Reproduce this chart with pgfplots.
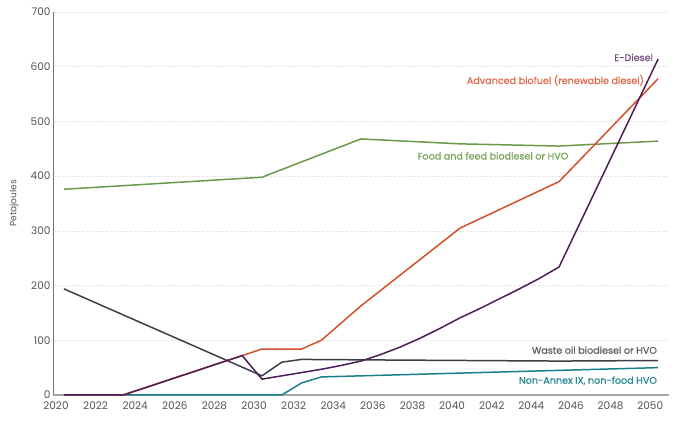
\documentclass[border=0pt]{standalone}
\usepackage{pgfplots}
\pgfplotsset{compat=1.18}
\usepackage{fontspec}
\setmainfont{Poppins}
\newfontfamily\labfont[FakeBold=0.6]{Poppins}
\usetikzlibrary{calc}

\definecolor{cfood}{HTML}{6A9A48}
\definecolor{cadv}{HTML}{D4502A}
\definecolor{cedie}{HTML}{4B1F55}
\definecolor{cwaste}{HTML}{3C3F48}
\definecolor{cnon}{HTML}{1A7F8A}
\definecolor{ctick}{HTML}{555555}

\begin{document}
\begin{tikzpicture}
\begin{axis}[
  scale only axis, width=616pt, height=383pt,
  xmin=2019.85, xmax=2050.95, ymin=0, ymax=700,
  xtick={2020,2022,...,2050}, ytick={0,100,...,700},
  xticklabel style={/pgf/number format/1000 sep={}},
  /pgf/number format/assume math mode=true,
  ticklabel style={font=\fontsize{10.5}{12}\selectfont, text=ctick},
  major tick length=0pt,
  axis x line*=bottom, axis y line*=left,
  x axis line style={draw=black!35, line width=1.3pt},
  y axis line style={draw=black!55, line width=0.6pt},
  ymajorgrids, grid style={draw=black!15, dotted, line width=0.6pt},
  ylabel={Petajoules},
  ylabel style={font=\fontsize{9}{10}\selectfont, text=ctick, at={(ticklabel cs:0.5)}, anchor=south, yshift=5pt},
  xticklabel style={yshift=-3pt},
  yticklabel style={xshift=1pt},
  clip=false,
  every axis plot/.append style={line width=1.5pt, no markers},
]
% Food and feed biodiesel or HVO
\addplot[cfood] coordinates {(2020.4,376) (2030.4,398) (2035.4,468) (2040.4,459) (2045.4,455) (2050.4,464)};
% Waste oil biodiesel or HVO
\addplot[cwaste] coordinates {(2020.4,194) (2030.4,35) (2031.4,60) (2032.4,65) (2036.4,64) (2045.4,62) (2050.4,63)};
% Non-Annex IX, non-food HVO
\addplot[cnon] coordinates {(2020.4,0) (2031.4,0) (2032.4,22) (2033.4,33) (2050.4,50)};
% Advanced biofuel (renewable diesel)
\addplot[cadv] coordinates {(2020.4,0) (2023.4,0) (2029.4,72) (2030.4,84) (2032.4,84) (2033.4,100) (2035.4,163) (2040.4,305) (2045.4,390) (2050.4,578)};
% E-Diesel
\addplot[cedie] coordinates {(2020.4,0) (2023.4,0) (2029.4,72) (2030.4,29) (2031.4,35) (2032.4,41) (2033.4,47) (2034.4,54) (2035.4,62) (2036.4,74) (2037.4,88) (2038.4,104) (2039.4,122) (2040.4,141) (2041.4,158) (2042.4,176) (2043.4,194) (2044.4,213) (2045.4,234) (2050.4,614)};

\begin{scope}[every node/.style={font=\labfont\fontsize{9.6}{11}\selectfont, inner sep=0pt}]
\node[anchor=east, text=cedie!80] at (axis cs:2050.15,617) {E-Diesel};
\node[anchor=east, text=cadv!85] at (axis cs:2049.7,575) {Advanced biofuel (renewable diesel)};
\node[anchor=west, text=cfood!90] at (axis cs:2038.25,437) {Food and feed biodiesel or HVO};
\node[anchor=east, text=cwaste!85] at (axis cs:2050.35,82) {Waste oil biodiesel or HVO};
\node[anchor=east, text=cnon!95] at (axis cs:2050.35,26) {Non-Annex IX, non-food HVO};
\end{scope}
\coordinate (bl) at (rel axis cs:0,0);
\coordinate (tr) at (rel axis cs:1,1);
\end{axis}
\pgfresetboundingbox
\path[use as bounding box] ($(bl)+(-53pt,-26pt)$) rectangle ($(tr)+(20pt,12pt)$);
\end{tikzpicture}
\end{document}
